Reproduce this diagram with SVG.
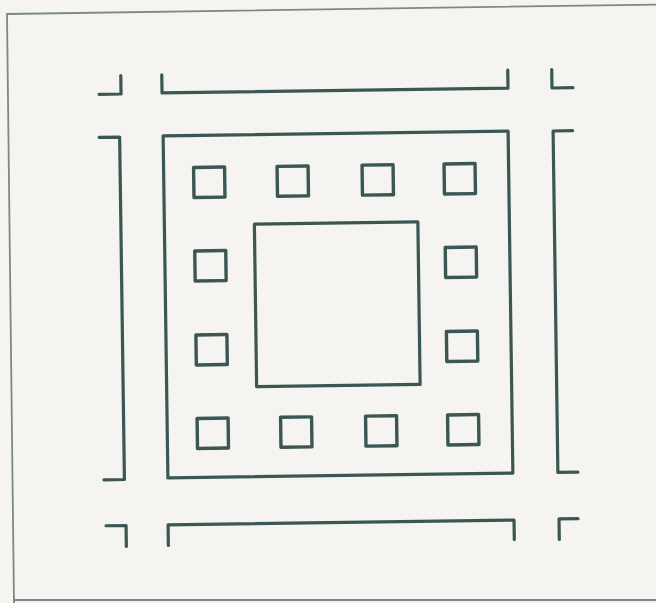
<svg xmlns="http://www.w3.org/2000/svg" width="656" height="603" viewBox="0 0 656 603">
<style>
.ln{fill:none;stroke:#3b5753;stroke-width:3.2;stroke-linecap:round;stroke-linejoin:round}
.sq{fill:none;stroke:#3b5753;stroke-width:3.4;stroke-linejoin:round}
.frame{fill:none;stroke:#7a8987;stroke-width:1.8}
</style>
<rect width="656" height="603" fill="#f6f4f1"/>
<g id="frame">
  <path class="frame" d="M660,4.5 L7,14 L14,604"/>
  <path class="frame" d="M13,600 L660,600" stroke="#5f6f6d" stroke-width="2.4"/>
</g>
<g id="drawing" transform="rotate(-0.8 338 304.5)">
  <g id="top-row">
    <path class="ln" d="M102,91 H124 V72.5"/>
    <path class="ln" d="M165,72.5 V90.5 H511 V72.5"/>
    <path class="ln" d="M555,72.5 V91 H576"/>
  </g>
  <g id="side-brackets">
    <path class="ln" d="M101.5,134 H122 V476.5 H101.5"/>
    <path class="ln" d="M575,134 H555.5 V475.5 H575.5"/>
  </g>
  <g id="bottom-row">
    <path class="ln" d="M103,522.5 H123 V543.5"/>
    <path class="ln" d="M165,543 V522.5 H511 V542"/>
    <path class="ln" d="M575,522 H556 V542.5"/>
  </g>
  <rect id="outer-square" class="ln" x="165.5" y="133.5" width="345" height="342"/>
  <rect id="inner-square" class="ln" x="255.5" y="223" width="163.5" height="162.5"/>
  <g id="small-squares">
    <rect class="sq" x="195.5" y="165.5" width="31" height="30"/>
    <rect class="sq" x="279" y="165.5" width="31" height="30"/>
    <rect class="sq" x="364" y="165.5" width="31" height="30"/>
    <rect class="sq" x="446" y="165.5" width="31" height="30"/>
    <rect class="sq" x="195.5" y="249" width="31" height="30"/>
    <rect class="sq" x="446" y="249" width="31" height="30"/>
    <rect class="sq" x="195.5" y="333" width="31" height="30"/>
    <rect class="sq" x="446" y="333" width="31" height="30"/>
    <rect class="sq" x="195.5" y="416.5" width="31" height="30"/>
    <rect class="sq" x="279" y="416.5" width="31" height="30"/>
    <rect class="sq" x="364" y="416.5" width="31" height="30"/>
    <rect class="sq" x="446" y="416.5" width="31" height="30"/>
  </g>
</g>
</svg>
